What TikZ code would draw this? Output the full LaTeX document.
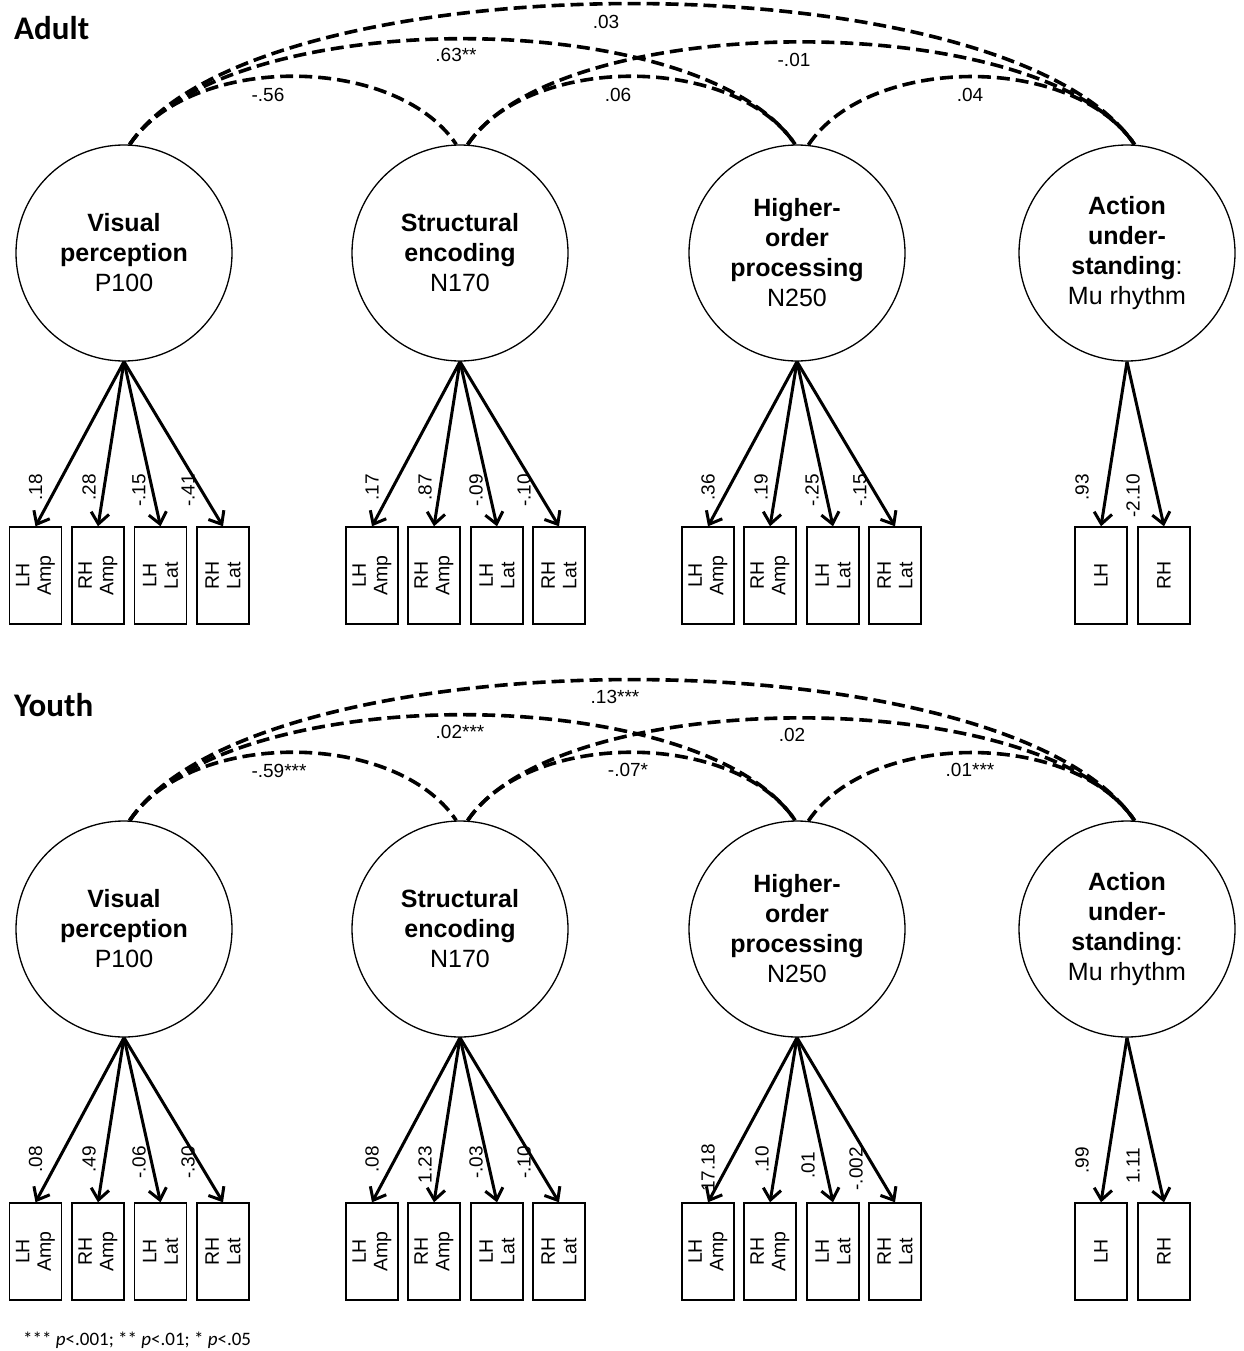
\documentclass[tikz,border=0pt]{standalone}
\usepackage{fontspec}
\setmainfont{Liberation Sans}
\newfontfamily\calibri{Carlito}
\usetikzlibrary{arrows.meta,calc}

\tikzset{
 latent/.style={circle, draw, line width=1.3pt, minimum size=216pt, inner sep=0pt, align=center, font=\fontsize{25}{30}\selectfont},
 obsbox/.style={rectangle, draw, line width=1.4pt, rotate=90, minimum width=97pt, minimum height=52pt, inner sep=0pt, align=center, font=\fontsize{19.5}{21.5}\selectfont},
 loadarrow/.style={line width=3pt, -{Straight Barb[length=11pt,width=18pt]}},
 cov/.style={line width=3.6pt, dash pattern=on 13pt off 6pt},
 loadlab/.style={rotate=90, anchor=east, inner sep=0pt, font=\fontsize{19}{19}\selectfont},
 covlab/.style={inner sep=0pt, font=\fontsize{19}{19}\selectfont},
 paneltitle/.style={anchor=base west, inner sep=0pt, font=\calibri\bfseries\fontsize{33}{33}\selectfont},
}

\newcommand{\semstructure}[2]{%
\begin{scope}[shift={(0,#2)}]
 \node[latent] (#1VP) at (124,253) {\textbf{Visual}\\\textbf{perception}\\P100};
 \node[latent] (#1SE) at (460,253) {\textbf{Structural}\\\textbf{encoding}\\N170};
 \node[latent] (#1HO) at (797,253) {\textbf{Higher-}\\\textbf{order}\\\textbf{processing}\\N250};
 \node[latent] (#1AU) at (1127,253) {\textbf{Action}\\\textbf{under-}\\\textbf{standing}:\\Mu rhythm};
 % indicators
 \node[obsbox] (#1VP1) at (35.5,575.5) {LH\\Amp};
 \node[obsbox] (#1VP2) at (98,575.5) {RH\\Amp};
 \node[obsbox] (#1VP3) at (160.5,575.5) {LH\\Lat};
 \node[obsbox] (#1VP4) at (223,575.5) {RH\\Lat};
 \node[obsbox] (#1SE1) at (372,575.5) {LH\\Amp};
 \node[obsbox] (#1SE2) at (434,575.5) {RH\\Amp};
 \node[obsbox] (#1SE3) at (497,575.5) {LH\\Lat};
 \node[obsbox] (#1SE4) at (559,575.5) {RH\\Lat};
 \node[obsbox] (#1HO1) at (708,575.5) {LH\\Amp};
 \node[obsbox] (#1HO2) at (770,575.5) {RH\\Amp};
 \node[obsbox] (#1HO3) at (833,575.5) {LH\\Lat};
 \node[obsbox] (#1HO4) at (895,575.5) {RH\\Lat};
 \node[obsbox] (#1AU1) at (1101,575.5) {LH};
 \node[obsbox] (#1AU2) at (1164,575.5) {RH};
 % loadings
 \foreach \f in {VP,SE,HO}{
   \foreach \i in {1,2,3,4}{
     \draw[loadarrow] (#1\f.south) -- (#1\f\i.east);
   }
 }
 \draw[loadarrow] (#1AU.south) -- (#1AU1.east);
 \draw[loadarrow] (#1AU.south) -- (#1AU2.east);
 % covariance end points
 \coordinate (#1VPo) at (#1VP.87.9);
 \coordinate (#1SEi) at (#1SE.92.6);
 \coordinate (#1SEo) at (#1SE.86.8);
 \coordinate (#1HOi) at (#1HO.91.1);
 \coordinate (#1HOo) at (#1HO.84.2);
 \coordinate (#1AUi) at (#1AU.86.8);
 \draw[cov] (#1VPo) .. controls ($(#1VPo)+(61,-91)$) and ($(#1SEi)+(-61,-91)$) .. (#1SEi);
 \draw[cov] (#1VPo) .. controls ($(#1VPo)+(95,-141)$) and ($(#1HOi)+(-95,-141)$) .. (#1HOi);
 \draw[cov] (#1VPo) .. controls ($(#1VPo)+(127,-188)$) and ($(#1AUi)+(-127,-188)$) .. (#1AUi);
 \draw[cov] (#1SEo) .. controls ($(#1SEo)+(61,-91)$) and ($(#1HOi)+(-61,-91)$) .. (#1HOi);
 \draw[cov] (#1SEo) .. controls ($(#1SEo)+(92,-137)$) and ($(#1AUi)+(-92,-137)$) .. (#1AUi);
 \draw[cov] (#1HOo) .. controls ($(#1HOo)+(61,-91)$) and ($(#1AUi)+(-61,-91)$) .. (#1AUi);
\end{scope}}

\begin{document}
\begin{tikzpicture}[x=1pt,y=-1pt]
\useasboundingbox (0,0) rectangle (1243,1351);

% ---------------- Adult ----------------
\node[paneltitle] (tadult) at (14,40) {Adult};
\semstructure{a}{0}
\node[covlab] (ac1) at (606,22) {.03};
\node[covlab] (ac2) at (456,55) {.63**};
\node[covlab] (ac3) at (794,60) {-.01};
\node[covlab] (ac4) at (268,95) {-.56};
\node[covlab] (ac5) at (618,95) {.06};
\node[covlab] (ac6) at (970,95) {.04};
\node[loadlab] (al1) at (35.5,474) {.18};
\node[loadlab] (al2) at (89,474) {.28};
\node[loadlab] (al3) at (139,474) {-.15};
\node[loadlab] (al4) at (188,474) {-.41};
\node[loadlab] (al5) at (372,474) {.17};
\node[loadlab] (al6) at (425,474) {.87};
\node[loadlab] (al7) at (476,474) {-.09};
\node[loadlab] (al8) at (524,474) {-.10};
\node[loadlab] (al9) at (708,474) {.36};
\node[loadlab] (al10) at (761,474) {.19};
\node[loadlab] (al11) at (812,474) {-.25};
\node[loadlab] (al12) at (860,474) {-.15};
\node[loadlab] (al13) at (1082,474) {.93};
\node[loadlab] (al14) at (1133,474) {-2.10};

% ---------------- Youth ----------------
\node[paneltitle] (tyouth) at (14,716) {Youth};
\semstructure{y}{676}
\node[covlab] (yc1) at (615,697) {.13***};
\node[covlab] (yc2) at (460,732) {.02***};
\node[covlab] (yc3) at (792,735) {.02};
\node[covlab] (yc4) at (279,771) {-.59***};
\node[covlab] (yc5) at (628,770) {-.07*};
\node[covlab] (yc6) at (970,770) {.01***};
\node[loadlab] (yl1) at (35.5,1146) {.08};
\node[loadlab] (yl2) at (89,1146) {.49};
\node[loadlab] (yl3) at (139,1146) {-.06};
\node[loadlab] (yl4) at (188,1146) {-.30};
\node[loadlab] (yl5) at (372,1146) {.08};
\node[loadlab] (yl6) at (425,1146) {1.23};
\node[loadlab] (yl7) at (476,1146) {-.03};
\node[loadlab] (yl8) at (524,1146) {-.10};
\node[loadlab] (yl9) at (708,1144) {17.18};
\node[loadlab] (yl10) at (762,1146) {.10};
\node[loadlab] (yl11) at (808,1152) {.01};
\node[loadlab] (yl12) at (856,1147) {-.002};
\node[loadlab] (yl13) at (1082,1147) {.99};
\node[loadlab] (yl14) at (1133,1148) {1.11};

\node[anchor=base west, inner sep=0pt, font=\calibri\fontsize{19}{19}\selectfont] (foot) at (23,1345) {*** \textit{p}<.001; ** \textit{p}<.01; * \textit{p}<.05};
\end{tikzpicture}
\end{document}
